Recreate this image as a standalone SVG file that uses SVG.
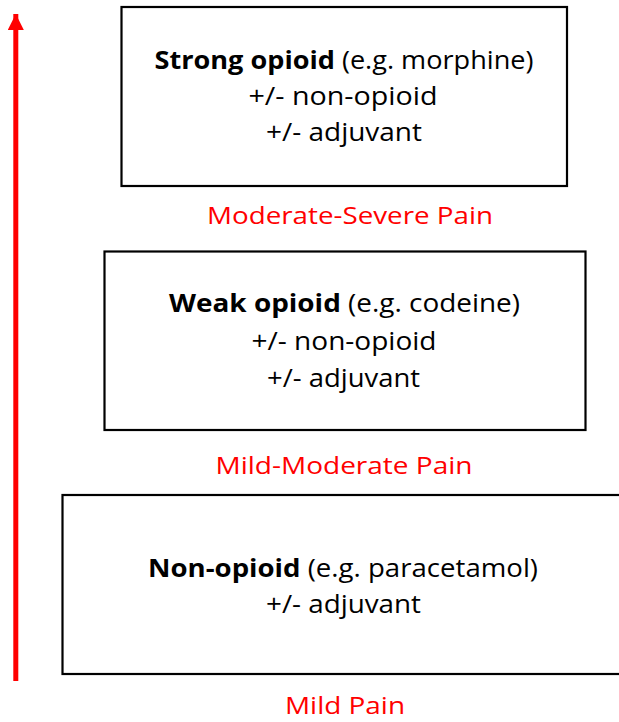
<svg xmlns="http://www.w3.org/2000/svg" width="619" height="722" viewBox="0 0 619 722">
  <defs>
    <style>
      .box { fill: #ffffff; stroke: #000000; stroke-width: 2.2; }
      .t { font-family: "Open Sans", "Noto Sans", sans-serif; font-size: 25.5px; fill: #000000; text-anchor: middle; }
      .b { font-weight: bold; }
      .lbl { font-family: "Open Sans", "Noto Sans", sans-serif; font-size: 24px; fill: #ff0000; text-anchor: middle; }
      .arrow { stroke: #ff0000; stroke-width: 5; fill: none; }
    </style>
    <marker id="head" markerUnits="userSpaceOnUse" markerWidth="16" markerHeight="16" refX="16" refY="8" orient="auto" viewBox="0 0 16 16">
      <path d="M0,0 L16,8 L0,16 Z" fill="#ff0000"/>
    </marker>
  </defs>
  <rect width="619" height="722" fill="#ffffff"/>

  <g id="connectors">
    <path class="arrow" d="M15.8,681 L15.8,14" marker-end="url(#head)"/>
  </g>

  <g id="strong">
    <rect class="box" x="121.5" y="7" width="445.5" height="179"/>
    <text class="t" x="344" y="69" textLength="379" lengthAdjust="spacingAndGlyphs"><tspan class="b">Strong opioid</tspan> (e.g. morphine)</text>
    <text class="t" x="343" y="105" textLength="189" lengthAdjust="spacingAndGlyphs">+/- non-opioid</text>
    <text class="t" x="344" y="141" textLength="156" lengthAdjust="spacingAndGlyphs">+/- adjuvant</text>
  </g>
  <text id="lbl-modsev" class="lbl" x="350" y="224" textLength="286" lengthAdjust="spacingAndGlyphs">Moderate-Severe Pain</text>

  <g id="weak">
    <rect class="box" x="104.5" y="251.5" width="481" height="178.5"/>
    <text class="t" x="344.5" y="312" textLength="351" lengthAdjust="spacingAndGlyphs"><tspan class="b">Weak opioid</tspan> (e.g. codeine)</text>
    <text class="t" x="344" y="350" textLength="185" lengthAdjust="spacingAndGlyphs">+/- non-opioid</text>
    <text class="t" x="343.5" y="387" textLength="153" lengthAdjust="spacingAndGlyphs">+/- adjuvant</text>
  </g>
  <text id="lbl-mildmod" class="lbl" x="344" y="474" textLength="257" lengthAdjust="spacingAndGlyphs">Mild-Moderate Pain</text>

  <g id="nonopioid">
    <rect class="box" x="62.5" y="495" width="562" height="179"/>
    <text class="t" x="343" y="577" textLength="390" lengthAdjust="spacingAndGlyphs"><tspan class="b">Non-opioid</tspan> (e.g. paracetamol)</text>
    <text class="t" x="343.5" y="613" textLength="155" lengthAdjust="spacingAndGlyphs">+/- adjuvant</text>
  </g>
  <text id="lbl-mild" class="lbl" x="345" y="714" textLength="120" lengthAdjust="spacingAndGlyphs">Mild Pain</text>
</svg>
